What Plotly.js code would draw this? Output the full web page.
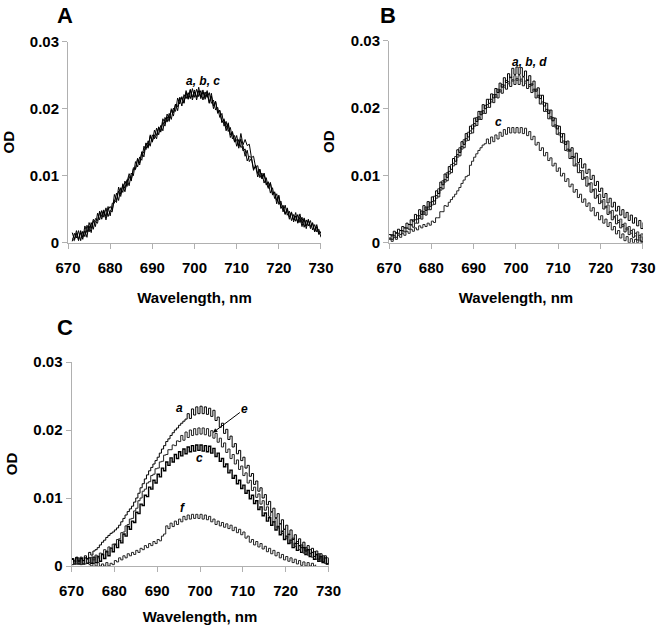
<!DOCTYPE html>
<html><head><meta charset="utf-8">
<script src="https://cdn.plot.ly/plotly-3.0.1.min.js"></script>
<style>html,body{margin:0;padding:0;background:#fff}</style>
</head><body><div id="chart" style="width:659px;height:631px"></div>
<script>
// ---- tick labels ----
const xTickVals = [670,680,690,700,710,720,730];
const yTickVals = [0,0.01,0.02,0.03];
const yTickText = ['0','0.01','0.02','0.03'];
// ---- wavelength sampling (nm) ----
const startA = 671, startB = 670, startC = 670, startCf = 674, stepNm = 0.5;

// ---- Panel A (OD) ----
const A_a = [.0015,.0005,.0018,.0005,.0015,.0005,.0025,.0015,.0025,.0015,
.0035,.0031,.0029,.0047,.0039,.0049,.0034,.0049,.0054,.0049,
.0064,.0060,.0083,.0072,.0086,.0076,.0091,.0103,.0094,.0110,
.0110,.0126,.0116,.0136,.0134,.0149,.0141,.0161,.0151,.0161,
.0155,.0173,.0167,.0185,.0178,.0188,.0181,.0200,.0194,.0207,
.0197,.0216,.0215,.0209,.0227,.0215,.0228,.0213,.0225,.0217,
.0232,.0215,.0225,.0217,.0227,.0209,.0219,.0200,.0211,.0195,
.0197,.0180,.0183,.0167,.0179,.0161,.0166,.0150,.0154,.0141,
.0155,.0137,.0140,.0122,.0129,.0127,.0110,.0114,.0098,.0109,
.0096,.0104,.0090,.0081,.0089,.0073,.0075,.0058,.0071,.0052,
.0054,.0042,.0052,.0038,.0046,.0031,.0040,.0030,.0043,.0029,
.0035,.0021,.0034,.0024,.0030,.0016,.0024,.0012,.0016];
const A_b = [.0002,.0014,.0007,.0018,.0003,.0017,.0009,.0026,.0016,.0030,
.0020,.0036,.0033,.0046,.0035,.0047,.0039,.0054,.0040,.0059,
.0059,.0074,.0063,.0082,.0075,.0092,.0084,.0099,.0092,.0112,
.0109,.0125,.0119,.0135,.0128,.0148,.0143,.0159,.0150,.0168,
.0160,.0172,.0165,.0180,.0174,.0192,.0185,.0198,.0189,.0207,
.0203,.0217,.0204,.0221,.0215,.0224,.0215,.0230,.0217,.0229,
.0218,.0227,.0213,.0225,.0217,.0224,.0208,.0213,.0198,.0202,
.0187,.0193,.0174,.0181,.0166,.0172,.0155,.0160,.0144,.0154,
.0142,.0145,.0129,.0138,.0121,.0126,.0108,.0116,.0103,.0110,
.0095,.0102,.0086,.0091,.0074,.0082,.0066,.0073,.0057,.0062,
.0046,.0056,.0041,.0047,.0033,.0042,.0032,.0042,.0030,.0038,
.0023,.0034,.0025,.0033,.0019,.0027,.0016,.0020,.0008];
const A_c = [.0006,.0003,.0014,.0003,.0018,.0008,.0018,.0008,.0030,.0021,
.0033,.0024,.0044,.0034,.0048,.0038,.0052,.0039,.0048,.0046,
.0072,.0063,.0077,.0069,.0088,.0081,.0094,.0085,.0104,.0100,
.0121,.0113,.0128,.0123,.0144,.0139,.0152,.0144,.0161,.0155,
.0171,.0161,.0175,.0167,.0187,.0180,.0193,.0184,.0201,.0196,
.0216,.0207,.0218,.0208,.0224,.0214,.0229,.0217,.0228,.0213,
.0227,.0218,.0228,.0214,.0223,.0208,.0223,.0204,.0211,.0193,
.0198,.0179,.0185,.0172,.0177,.0157,.0164,.0151,.0160,.0144,
.0163,.0146,.0154,.0145,.0147,.0127,.0129,.0112,.0115,.0097,
.0104,.0089,.0097,.0083,.0090,.0071,.0076,.0063,.0069,.0051,
.0056,.0043,.0050,.0035,.0045,.0034,.0045,.0029,.0038,.0024,
.0037,.0025,.0035,.0021,.0029,.0017,.0027,.0013,.0017];

// ---- Panel B (OD) ----
const B_a = [.0012,.0010,.0017,.0014,.0020,.0018,.0024,.0022,.0029,.0027,.0034,.0032,.0042,.0035,.0049,.0042,.0055,.0048,.0061,.0054,
.0068,.0062,.0077,.0073,.0090,.0086,.0102,.0097,.0113,.0109,.0125,.0121,.0138,.0134,.0150,.0146,.0162,.0157,.0173,.0169,
.0185,.0180,.0195,.0190,.0205,.0199,.0213,.0207,.0221,.0215,.0229,.0223,.0237,.0231,.0245,.0238,.0251,.0245,.0259,.0250,
.0261,.0250,.0260,.0247,.0255,.0241,.0248,.0234,.0240,.0225,.0230,.0214,.0219,.0203,.0207,.0192,.0197,.0181,.0185,.0169,
.0173,.0157,.0162,.0146,.0151,.0136,.0141,.0127,.0133,.0119,.0125,.0111,.0117,.0103,.0109,.0094,.0100,.0085,.0091,.0076,
.0081,.0067,.0073,.0059,.0066,.0053,.0060,.0047,.0054,.0041,.0049,.0037,.0045,.0033,.0041,.0029,.0037,.0025,.0033,.0021,.0030];
const B_b = [.0006,.0012,.0010,.0015,.0013,.0018,.0016,.0022,.0021,.0027,.0026,.0034,.0029,.0040,.0036,.0047,.0042,.0053,.0049,.0060,
.0056,.0069,.0066,.0080,.0078,.0092,.0090,.0104,.0102,.0116,.0114,.0128,.0127,.0141,.0139,.0153,.0151,.0164,.0162,.0175,
.0173,.0186,.0183,.0195,.0192,.0204,.0201,.0213,.0209,.0220,.0216,.0228,.0224,.0235,.0231,.0241,.0236,.0246,.0240,.0248,
.0241,.0248,.0240,.0246,.0237,.0242,.0232,.0236,.0225,.0228,.0216,.0219,.0206,.0208,.0195,.0197,.0184,.0186,.0172,.0174,
.0160,.0162,.0148,.0150,.0136,.0138,.0125,.0127,.0114,.0117,.0104,.0107,.0095,.0098,.0086,.0089,.0077,.0080,.0068,.0072,
.0060,.0064,.0052,.0056,.0044,.0048,.0037,.0041,.0030,.0035,.0024,.0029,.0019,.0024,.0014,.0020,.0010,.0016,.0007,.0013,.0004];
const B_c = [.0005,.0002,.0008,.0005,.0011,.0008,.0014,.0011,.0017,.0014,.0020,.0017,.0022,.0019,.0025,.0022,.0027,.0024,.0029,.0026,
.0032,.0030,.0037,.0037,.0046,.0046,.0055,.0054,.0060,.0064,.0068,.0072,.0077,.0082,.0088,.0093,.0098,.0100,.0115,.0121,
.0127,.0132,.0137,.0141,.0145,.0147,.0154,.0147,.0157,.0150,.0160,.0154,.0164,.0158,.0168,.0161,.0171,.0163,.0171,.0163,
.0171,.0163,.0171,.0162,.0170,.0159,.0165,.0153,.0158,.0145,.0149,.0137,.0141,.0129,.0134,.0122,.0126,.0114,.0118,.0106,
.0111,.0099,.0103,.0091,.0095,.0083,.0087,.0075,.0079,.0067,.0072,.0060,.0065,.0054,.0059,.0047,.0052,.0040,.0045,.0034,
.0040,.0029,.0035,.0024,.0030,.0019,.0024,.0013,.0018,.0007,.0013,.0003,.0009,.0000,.0006,.0000,.0005,.0000,.0004,.0000,.0002];
const B_d = [.0007,.0005,.0011,.0008,.0014,.0012,.0018,.0016,.0022,.0020,.0027,.0023,.0034,.0029,.0040,.0035,.0046,.0041,.0053,.0049,
.0061,.0057,.0070,.0068,.0082,.0080,.0094,.0092,.0106,.0104,.0118,.0116,.0131,.0129,.0143,.0141,.0155,.0152,.0166,.0163,
.0177,.0174,.0187,.0183,.0196,.0192,.0205,.0201,.0213,.0208,.0220,.0215,.0227,.0222,.0234,.0228,.0239,.0232,.0242,.0235,
.0244,.0235,.0243,.0233,.0240,.0229,.0235,.0223,.0228,.0215,.0219,.0206,.0209,.0195,.0198,.0184,.0187,.0173,.0175,.0161,
.0163,.0149,.0151,.0137,.0139,.0125,.0128,.0114,.0117,.0104,.0107,.0094,.0097,.0084,.0088,.0075,.0079,.0066,.0070,.0058,
.0062,.0050,.0054,.0042,.0046,.0034,.0039,.0028,.0033,.0022,.0027,.0016,.0022,.0012,.0018,.0008,.0014,.0004,.0011,.0002,.0009];

// ---- Panel C (OD) ----
const C_a = [.0011,.0006,.0013,.0007,.0013,.0008,.0015,.0011,.0020,.0016,.0022,.0024,.0027,.0031,.0035,.0038,.0042,.0045,.0048,.0050,
.0053,.0056,.0060,.0065,.0070,.0075,.0080,.0084,.0088,.0094,.0100,.0107,.0115,.0121,.0128,.0134,.0140,.0145,.0150,.0155,
.0160,.0166,.0172,.0177,.0183,.0187,.0192,.0196,.0200,.0203,.0207,.0210,.0213,.0216,.0224,.0217,.0231,.0222,.0234,.0224,
.0235,.0224,.0234,.0223,.0232,.0220,.0229,.0214,.0219,.0204,.0210,.0195,.0201,.0186,.0191,.0175,.0180,.0165,.0170,.0155,
.0160,.0144,.0148,.0132,.0136,.0120,.0125,.0110,.0115,.0100,.0105,.0090,.0095,.0080,.0085,.0071,.0077,.0062,.0068,.0054,
.0060,.0046,.0053,.0039,.0046,.0033,.0040,.0027,.0035,.0022,.0030,.0018,.0026,.0014,.0022,.0010,.0018,.0006,.0015,.0003,.0012];
const C_e = [.0002,.0008,.0003,.0008,.0002,.0008,.0003,.0010,.0005,.0013,.0009,.0016,.0012,.0019,.0018,.0024,.0022,.0028,.0026,.0032,
.0031,.0039,.0040,.0049,.0050,.0059,.0061,.0069,.0070,.0081,.0085,.0096,.0100,.0110,.0113,.0122,.0124,.0133,.0135,.0143,
.0144,.0153,.0154,.0163,.0164,.0171,.0171,.0178,.0177,.0184,.0183,.0192,.0185,.0197,.0189,.0200,.0192,.0202,.0193,.0203,
.0194,.0203,.0193,.0202,.0191,.0199,.0188,.0195,.0182,.0188,.0175,.0181,.0167,.0172,.0158,.0164,.0150,.0156,.0142,.0147,
.0133,.0137,.0122,.0126,.0111,.0116,.0101,.0106,.0091,.0096,.0082,.0087,.0073,.0079,.0065,.0070,.0056,.0062,.0048,.0054,
.0041,.0047,.0034,.0041,.0029,.0036,.0024,.0031,.0019,.0027,.0016,.0024,.0013,.0021,.0010,.0018,.0007,.0015,.0004,.0012,.0001];
const C_c = [.0010,.0003,.0012,.0003,.0011,.0003,.0012,.0004,.0012,.0004,.0013,.0005,.0014,.0007,.0017,.0011,.0021,.0015,.0026,.0021,
.0032,.0027,.0038,.0034,.0047,.0044,.0058,.0054,.0066,.0064,.0079,.0077,.0091,.0089,.0104,.0102,.0116,.0113,.0126,.0122,
.0135,.0131,.0144,.0140,.0153,.0148,.0159,.0153,.0164,.0158,.0168,.0162,.0172,.0165,.0175,.0168,.0177,.0169,.0178,.0170,
.0178,.0169,.0177,.0168,.0176,.0166,.0173,.0161,.0166,.0154,.0158,.0146,.0150,.0137,.0141,.0129,.0133,.0121,.0126,.0114,
.0119,.0107,.0111,.0099,.0104,.0092,.0096,.0083,.0087,.0074,.0078,.0066,.0071,.0060,.0065,.0053,.0058,.0046,.0051,.0039,
.0044,.0033,.0038,.0027,.0033,.0023,.0030,.0020,.0027,.0017,.0024,.0014,.0020,.0010,.0017,.0007,.0014,.0005,.0012,.0003,.0010];
const C_f = [.0002,.0000,.0004,.0000,.0005,.0000,.0003,.0000,.0005,.0000,.0004,.0002,.0008,.0006,.0012,.0009,.0015,.0012,.0018,.0015,
.0020,.0017,.0023,.0020,.0026,.0024,.0030,.0027,.0033,.0030,.0036,.0033,.0039,.0037,.0044,.0047,.0059,.0055,.0063,.0058,
.0066,.0061,.0069,.0065,.0073,.0068,.0075,.0069,.0076,.0070,.0076,.0070,.0076,.0069,.0075,.0068,.0073,.0065,.0069,.0061,
.0066,.0059,.0064,.0057,.0062,.0055,.0060,.0052,.0057,.0049,.0054,.0046,.0050,.0041,.0044,.0035,.0039,.0031,.0036,.0028,
.0033,.0025,.0029,.0021,.0026,.0018,.0023,.0015,.0020,.0012,.0017,.0009,.0014,.0007,.0012,.0005,.0010,.0003,.0008,.0001,
.0006,.0000,.0005,.0000,.0004,.0000,.0002];

const FONT = 'Liberation Sans, Arial, Helvetica, sans-serif';

function line(y, x0, xa, ya, shape, width, color) {
  return {type:'scatter', mode:'lines', y:y, x0:x0, dx:stepNm, xaxis:xa, yaxis:ya,
    line:{color:color||'#000', width:width||1, shape:shape}, hoverinfo:'skip', showlegend:false};
}

const traces = [
  line(A_a, startA, 'x', 'y', 'linear', 1),
  line(A_b, startA, 'x', 'y', 'linear', 1),
  line(A_c, startA, 'x', 'y', 'linear', 1),
  line(B_c, startB, 'x2', 'y2', 'hv', 1, '#222'),
  line(B_d, startB, 'x2', 'y2', 'hv', 1, '#111'),
  line(B_b, startB, 'x2', 'y2', 'hv', 1, '#333'),
  line(B_a, startB, 'x2', 'y2', 'hv', 1, '#000'),
  line(C_f, startCf, 'x3', 'y3', 'hv', 1, '#222'),
  line(C_c, startC, 'x3', 'y3', 'hv', 1.4, '#000'),
  line(C_e, startC, 'x3', 'y3', 'hv', 1, '#222'),
  line(C_a, startC, 'x3', 'y3', 'hv', 1, '#000')
];

const axisColor = '#b0b0b0';
const tickFont = {family:FONT, size:15, color:'#000', weight:'bold'};
const titleFont = {family:FONT, size:15, color:'#000', weight:'bold'};

function xAxis(domain, anchor, standoff) {
  return {domain:domain, anchor:anchor, range:[670,730], tickvals:xTickVals,
    ticks:'outside', ticklen:5, tickwidth:1, tickcolor:axisColor,
    showline:true, linecolor:axisColor, linewidth:1, showgrid:false, zeroline:false,
    tickfont:tickFont, ticklabelstandoff:6, automargin:false, fixedrange:true,
    title:{text:'Wavelength, nm', font:titleFont, standoff:standoff}};
}
function yAxis(domain, anchor) {
  return {domain:domain, anchor:anchor, range:[0,0.03], tickvals:yTickVals, ticktext:yTickText,
    ticks:'outside', ticklen:5, tickwidth:1, tickcolor:axisColor,
    showline:true, linecolor:axisColor, linewidth:1, showgrid:false, zeroline:false,
    tickfont:tickFont, automargin:false, fixedrange:true,
    title:{text:'OD', font:titleFont, standoff:12}};
}

const labFont = {family:FONT, size:12, color:'#000', weight:'bold', style:'italic'};
const panelFont = {family:FONT, size:22, color:'#000', weight:'bold'};

const annotations = [
  {xref:'paper', yref:'paper', x:0.0986, y:0.9762, text:'A', showarrow:false, font:panelFont, xanchor:'center', yanchor:'middle'},
  {xref:'paper', yref:'paper', x:0.5888, y:0.9762, text:'B', showarrow:false, font:panelFont, xanchor:'center', yanchor:'middle'},
  {xref:'paper', yref:'paper', x:0.0986, y:0.4802, text:'C', showarrow:false, font:panelFont, xanchor:'center', yanchor:'middle'},
  {xref:'x', yref:'y', x:702.0, y:0.0241, text:'a, b, c', showarrow:false, font:labFont},
  {xref:'x2', yref:'y2', x:703.3, y:0.0268, text:'a, b, d', showarrow:false, font:labFont},
  {xref:'x2', yref:'y2', x:695.8, y:0.0179, text:'c', showarrow:false, font:labFont},
  {xref:'x3', yref:'y3', x:695.1, y:0.0232, text:'a', showarrow:false, font:labFont},
  {xref:'x3', yref:'y3', x:699.8, y:0.0159, text:'c', showarrow:false, font:labFont},
  {xref:'x3', yref:'y3', x:696.0, y:0.0086, text:'f', showarrow:false, font:labFont},
  {xref:'x3', yref:'y3', x:703.0, y:0.0196, text:'e', showarrow:true, ax:32, ay:-24,
   arrowhead:2, arrowsize:0.9, arrowwidth:1, arrowcolor:'#000', font:labFont}
];

const layout = {
  width:659, height:631, margin:{l:0, r:0, t:0, b:0},
  paper_bgcolor:'#fff', plot_bgcolor:'#fff', showlegend:false, hovermode:false,
  font:{family:FONT, color:'#000'},
  xaxis: xAxis([0.1032, 0.4871], 'y', 17),
  yaxis: yAxis([0.6154, 0.9339], 'x'),
  xaxis2: xAxis([0.5903, 0.9757], 'y2', 17),
  yaxis2: yAxis([0.6154, 0.9355], 'x2'),
  xaxis3: xAxis([0.1085, 0.4985], 'y3', 13),
  yaxis3: yAxis([0.1030, 0.4263], 'x3'),
  annotations: annotations
};

Plotly.newPlot('chart', traces, layout, {staticPlot:true, displayModeBar:false});
</script>
</body></html>
